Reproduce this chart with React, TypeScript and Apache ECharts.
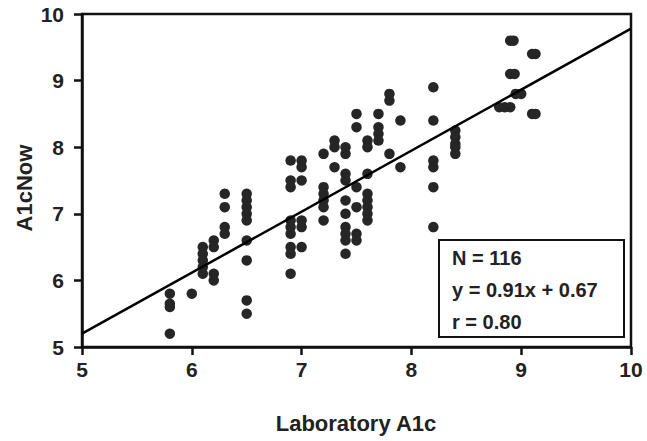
import React, { useEffect, useRef } from "react";
import * as echarts from "echarts";

// Laboratory A1c (x) vs A1cNow (y)
const labA1c = [
  5.8, 5.8, 5.8, 5.8,
  6.0,
  6.1, 6.1, 6.1, 6.1, 6.1,
  6.2, 6.2, 6.2, 6.2,
  6.3, 6.3, 6.3, 6.3,
  6.5, 6.5, 6.5, 6.5, 6.5, 6.5, 6.5, 6.5, 6.5,
  6.9, 6.9, 6.9, 6.9, 6.9, 6.9, 6.9, 6.9, 6.9,
  7.0, 7.0, 7.0, 7.0, 7.0, 7.0,
  7.2, 7.2, 7.2, 7.2, 7.2, 7.2,
  7.3, 7.3, 7.3,
  7.4, 7.4, 7.4, 7.4, 7.4, 7.4, 7.4, 7.4, 7.4, 7.4,
  7.5, 7.5, 7.5, 7.5, 7.5, 7.5,
  7.6, 7.6, 7.6, 7.6, 7.6, 7.6, 7.6, 7.6,
  7.7, 7.7, 7.7, 7.7,
  7.8, 7.8, 7.8,
  7.9, 7.9,
  8.2, 8.2, 8.2, 8.2, 8.2, 8.2,
  8.4, 8.4, 8.4, 8.4, 8.4,
  8.8, 8.85, 8.9,
  8.9, 8.93, 8.9, 8.94,
  8.95, 9.0,
  9.1, 9.13, 9.1, 9.13,
];
const a1cNow = [
  5.8, 5.65, 5.6, 5.2,
  5.8,
  6.5, 6.4, 6.3, 6.2, 6.1,
  6.6, 6.5, 6.1, 6.0,
  7.3, 7.1, 6.8, 6.7,
  7.3, 7.2, 7.1, 7.0, 6.9, 6.6, 6.3, 5.7, 5.5,
  7.8, 7.5, 7.4, 6.9, 6.8, 6.7, 6.5, 6.4, 6.1,
  7.8, 7.7, 7.5, 6.9, 6.8, 6.5,
  7.9, 7.4, 7.3, 7.2, 7.1, 6.9,
  8.1, 8.0, 7.7,
  8.0, 7.9, 7.6, 7.5, 7.2, 7.0, 6.8, 6.7, 6.6, 6.4,
  8.5, 8.3, 7.4, 7.1, 6.7, 6.6,
  8.1, 8.0, 7.6, 7.3, 7.2, 7.1, 7.0, 6.9,
  8.5, 8.3, 8.2, 8.1,
  8.8, 8.7, 7.9,
  8.4, 7.7,
  8.9, 8.4, 7.8, 7.7, 7.4, 6.8,
  8.25, 8.15, 8.05, 8.0, 7.9,
  8.6, 8.6, 8.6,
  9.6, 9.6, 9.1, 9.1,
  8.8, 8.8,
  9.4, 9.4, 8.5, 8.5,
];

// Regression line end points (y = 0.91x + 0.67 as drawn)
const fitLine = [
  [5, 5.2],
  [10, 9.78],
];

const statsLines = ["N = 116", "y = 0.91x + 0.67", "r = 0.80"];
const xTitle = "Laboratory A1c";
const yTitle = "A1cNow";

export default function App() {
  const ref = useRef<HTMLDivElement>(null);

  useEffect(() => {
    if (!ref.current) return;
    const chart = echarts.init(ref.current, null, { renderer: "svg" });
    const font = "'Liberation Sans', Arial, sans-serif";
    const pts = labA1c.map((x, i) => [x, a1cNow[i]]);

    const axisCommon = {
      type: "value" as const,
      min: 5,
      max: 10,
      interval: 1,
      axisLine: { show: true, lineStyle: { color: "#111", width: 2.5 } },
      axisTick: { show: true, inside: false, length: 8, lineStyle: { color: "#111", width: 2.5 } },
      splitLine: { show: false },
    };

    chart.setOption({
      animation: false,
      backgroundColor: "#fff",
      grid: {
        left: 82,
        right: 16,
        top: 14,
        bottom: 94,
        show: true,
        borderColor: "#111",
        borderWidth: 2.5,
        backgroundColor: "transparent",
      },
      xAxis: {
        ...axisCommon,
        axisLabel: {
          margin: 12,
          color: "#222",
          fontFamily: font,
          fontWeight: "bold",
          fontSize: 21,
        },
      },
      yAxis: {
        ...axisCommon,
        axisLabel: {
          margin: 18,
          color: "#222",
          fontFamily: font,
          fontWeight: "bold",
          fontSize: 21,
        },
      },
      series: [
        {
          type: "scatter",
          data: pts,
          symbol: "circle",
          symbolSize: 10.5,
          itemStyle: { color: "#262626", opacity: 1 },
          z: 3,
        },
        {
          type: "line",
          data: fitLine,
          symbol: "none",
          lineStyle: { color: "#000", width: 2.5 },
          z: 4,
        },
      ],
      graphic: [
        {
          type: "text",
          x: 356,
          y: 423,
          style: {
            text: xTitle,
            align: "center",
            verticalAlign: "middle",
            font: `bold 22px ${font}`,
            fill: "#222",
          },
        },
        {
          type: "text",
          x: 24,
          y: 188,
          rotation: Math.PI / 2,
          style: {
            text: yTitle,
            align: "center",
            verticalAlign: "middle",
            font: `bold 22px ${font}`,
            fill: "#222",
          },
        },
        {
          type: "rect",
          shape: { x: 439, y: 240, width: 185, height: 97 },
          style: { fill: "#fff", stroke: "#111", lineWidth: 2 },
          z: 10,
        },
        ...statsLines.map((t, i) => ({
          type: "text",
          x: 452,
          y: 258 + i * 32,
          z: 11,
          style: {
            text: t,
            align: "left",
            verticalAlign: "middle",
            font: `bold 20px ${font}`,
            fill: "#222",
          },
        })),
      ],
    });

    return () => chart.dispose();
  }, []);

  return <div ref={ref} style={{ width: 647, height: 441, position: "absolute", left: 0, top: 0 }} />;
}
